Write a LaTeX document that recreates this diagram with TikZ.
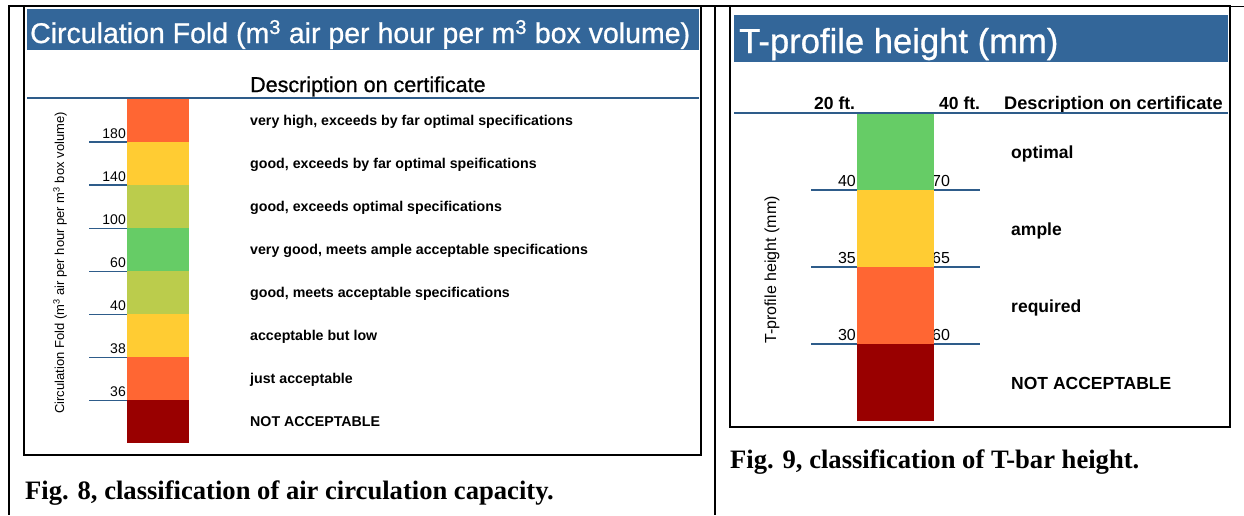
\documentclass[tikz,border=0pt]{standalone}
\usepackage{fontspec}
\setmainfont{Liberation Sans}
\newfontfamily\capfont{Liberation Serif}
\newfontfamily\hdrfont[FakeBold=0.8]{Liberation Sans}
\definecolor{hdr}{HTML}{336699}
\definecolor{ln}{HTML}{2E5C8A}
\definecolor{cor}{HTML}{FF6633}
\definecolor{cye}{HTML}{FFCC33}
\definecolor{col}{HTML}{BBCC4C}
\definecolor{cgr}{HTML}{66CC66}
\definecolor{crd}{HTML}{990000}
\newcommand\fs[1]{\fontsize{#1}{#1}\selectfont}
\begin{document}
\begin{tikzpicture}[x=1pt,y=1pt,
  frame/.style={line width=2pt, draw=black},
  hdrbox/.style={fill=hdr},
  lbl/.style={inner sep=0pt, anchor=base west},
  hdrtext/.style={lbl, text=white},
  rule/.style={draw=ln, line width=1.3pt},
  tickline/.style={draw=ln, line width=1.3pt},
  tlblA/.style={inner sep=0pt, anchor=base east, font=\fs{14}},
  tlblB/.style={inner sep=0pt, anchor=base east, font=\fs{16}},
  tlblC/.style={inner sep=0pt, anchor=base west, font=\fs{16}},
  descA/.style={lbl, font=\bfseries\fs{14.2}},
  descB/.style={lbl, font=\bfseries\fs{17.5}},
  captext/.style={lbl, font=\capfont\bfseries\fs{26.6}}
]
\fill[white] (0,0) rectangle (1244,-515);
\useasboundingbox (0,0) rectangle (1244,-515);

% ---------- left panel ----------
\fill[hdrbox] (27,-9) rectangle (699,-50);
\node[hdrtext, font=\hdrfont\fs{28.5}] (t1) at (30,-43) {Circulation Fold (m\textsuperscript{3} air per hour per m\textsuperscript{3} box volume)};
\node[lbl, font=\hdrfont\fs{21.5}] (d1) at (250,-92) {Description on certificate};
\draw[rule] (27,-98) -- (699,-98);

\foreach \y/\v in {142.1/180,185.1/140,228.2/100,271.2/60,314.3/40,357.3/38,400.4/36}{
  \draw[tickline] (89,-\y) -- (127,-\y);
  \node[tlblA] at (126,-\y+4) {\v};
}
\foreach \i/\c in {0/cor,1/cye,2/col,3/cgr,4/col,5/cye,6/cor,7/crd}{
  \fill[\c] (127,{-99-43.05*\i}) rectangle (189,{-99-43.05*(\i+1)});
}
\foreach \i/\t in {0/{very high, exceeds by far optimal specifications},
  1/{good, exceeds by far optimal speifications},
  2/{good, exceeds optimal specifications},
  3/{very good, meets ample acceptable specifications},
  4/{good, meets acceptable specifications},
  5/{acceptable but low},
  6/{just acceptable},
  7/{NOT ACCEPTABLE}}{
  \node[descA] at (250,{-99-43.05*\i-21.5-5}) {\t};
}
\node[rotate=90, inner sep=0pt, font=\fs{13}] (ax1) at (60,-263) {Circulation Fold (m\textsuperscript{3} air per hour per m\textsuperscript{3} box volume)};
\node[captext] (c1) at (25,-499) {Fig. 8, classification of air circulation capacity.};

% ---------- right panel ----------
\fill[hdrbox] (734,-15) rectangle (1228,-62);
\node[hdrtext, font=\hdrfont\fs{34.6}] (t2) at (739,-53) {T-profile height (mm)};
\node[descB] (h20) at (814,-109.5) {20 ft.};
\node[descB] (h40) at (939,-109.5) {40 ft.};
\node[lbl, font=\bfseries\fs{18.2}] (d2) at (1004,-109.5) {Description on certificate};
\draw[rule] (734,-113) -- (1228,-113);

\foreach \y/\a/\b in {190/40/70,267/35/65,344/30/60}{
  \draw[tickline] (811,-\y) -- (980,-\y);
  \node[tlblB] at (856,-\y+4) {\a};
  \node[tlblC] at (932,-\y+4) {\b};
}
\fill[cgr] (857,-114) rectangle (934,-190);
\fill[cye] (857,-190) rectangle (934,-267);
\fill[cor] (857,-267) rectangle (934,-344);
\fill[crd] (857,-344) rectangle (934,-421);
\node[descB] (o1) at (1011,-158) {optimal};
\node[descB] (o2) at (1011,-235) {ample};
\node[descB] (o3) at (1011,-312) {required};
\node[descB] (o4) at (1011,-389) {NOT ACCEPTABLE};
\node[rotate=90, inner sep=0pt, font=\fs{16}] (ax2) at (772,-270) {T-profile height (mm)};
\node[captext] (c2) at (730,-468) {Fig. 9, classification of T-bar height.};

% ---------- frames ----------
\draw[frame] (8,-6) -- (1231,-6);
\draw[black, line width=1pt] (1231,-6.5) -- (1244,-6.5);
\draw[frame] (9,-5) -- (9,-515);
\draw[frame] (715,-5) -- (715,-515);
\draw[frame] (24,-6) rectangle (701,-455);
\draw[frame] (730,-6) rectangle (1230,-427);
\end{tikzpicture}
\end{document}
